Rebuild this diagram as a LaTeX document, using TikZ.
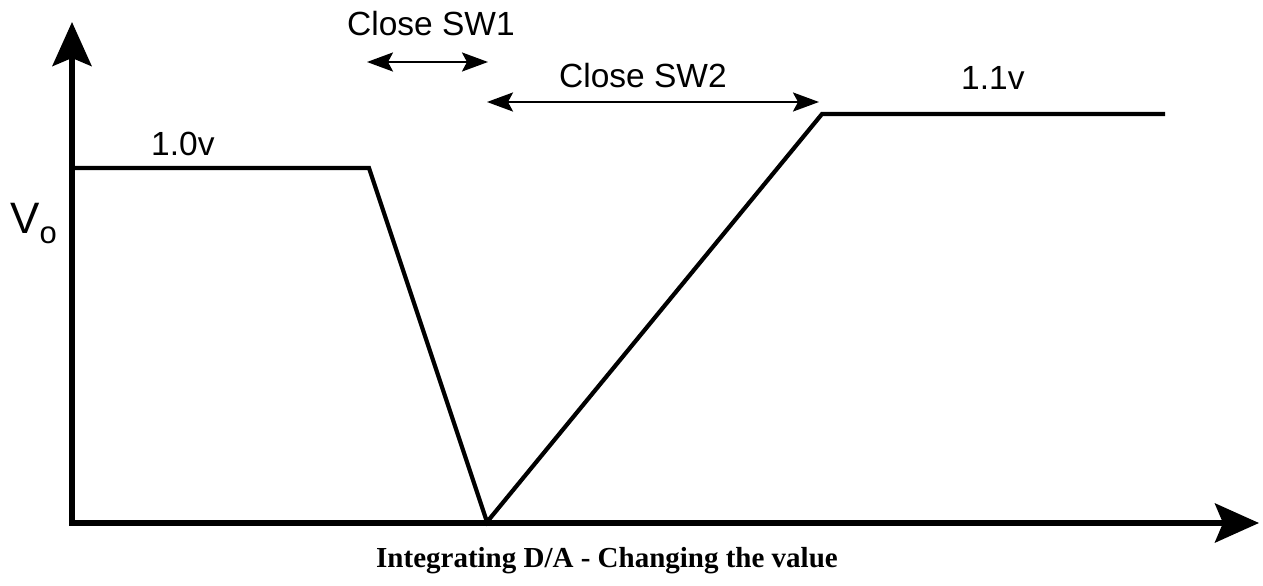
\documentclass[tikz,border=0pt]{standalone}
\usepackage{fontspec}
\setmainfont{Liberation Sans}
\newfontfamily\titlefont{Liberation Serif}
\usetikzlibrary{arrows.meta}
\tikzset{
  axis/.style={line width=5.5pt, -{Stealth[length=44pt,width=39pt,inset=8pt]}},
  curve/.style={line width=4.2pt, line join=miter},
  span/.style={line width=2.5pt, {Stealth[length=26pt,width=19pt,inset=5pt]}-{Stealth[length=26pt,width=19pt,inset=5pt]}},
  lbl/.style={font=\fontsize{33.5}{38}\selectfont, inner sep=0pt, anchor=base west},
}
\begin{document}
\begin{tikzpicture}[x=1pt,y=-1pt]
\useasboundingbox (0,0) rectangle (1263,586);
\coordinate (O) at (72,523);
\coordinate (ytip) at (72,22);
\coordinate (xtip) at (1259,523);
\coordinate (p1) at (72,168);
\coordinate (p2) at (369,168);
\coordinate (p3) at (487,522);
\coordinate (p4) at (822,114);
\coordinate (p5) at (1165,114);
\coordinate (s1a) at (367,62);
\coordinate (s1b) at (488,62);
\coordinate (s2a) at (487,102);
\coordinate (s2b) at (819,102);
\draw[axis] ([yshift=2.75pt]O) -- (ytip);
\draw[axis] ([xshift=-2.75pt]O) -- (xtip);
\draw[curve] (p1) -- (p2) -- (p3) -- (p4) -- (p5);
\draw[span] (s1a) -- (s1b);
\draw[span] (s2a) -- (s2b);
\node[lbl] (sw1) at (347,36) {Close SW1};
\node[lbl] (sw2) at (559,88) {Close SW2};
\node[lbl] (v10) at (151,155) {1.0v};
\node[lbl] (v11) at (961,89) {1.1v};
\node[inner sep=0pt, anchor=base west, font=\fontsize{44}{48}\selectfont] (vo) at (10,233) {V\raisebox{-10pt}{\fontsize{31}{34}\selectfont o}};
\node[inner sep=0pt, anchor=base, font=\titlefont\bfseries\fontsize{29}{32}\selectfont] (title) at (607,567) {Integrating D/A - Changing the value};
\end{tikzpicture}
\end{document}
